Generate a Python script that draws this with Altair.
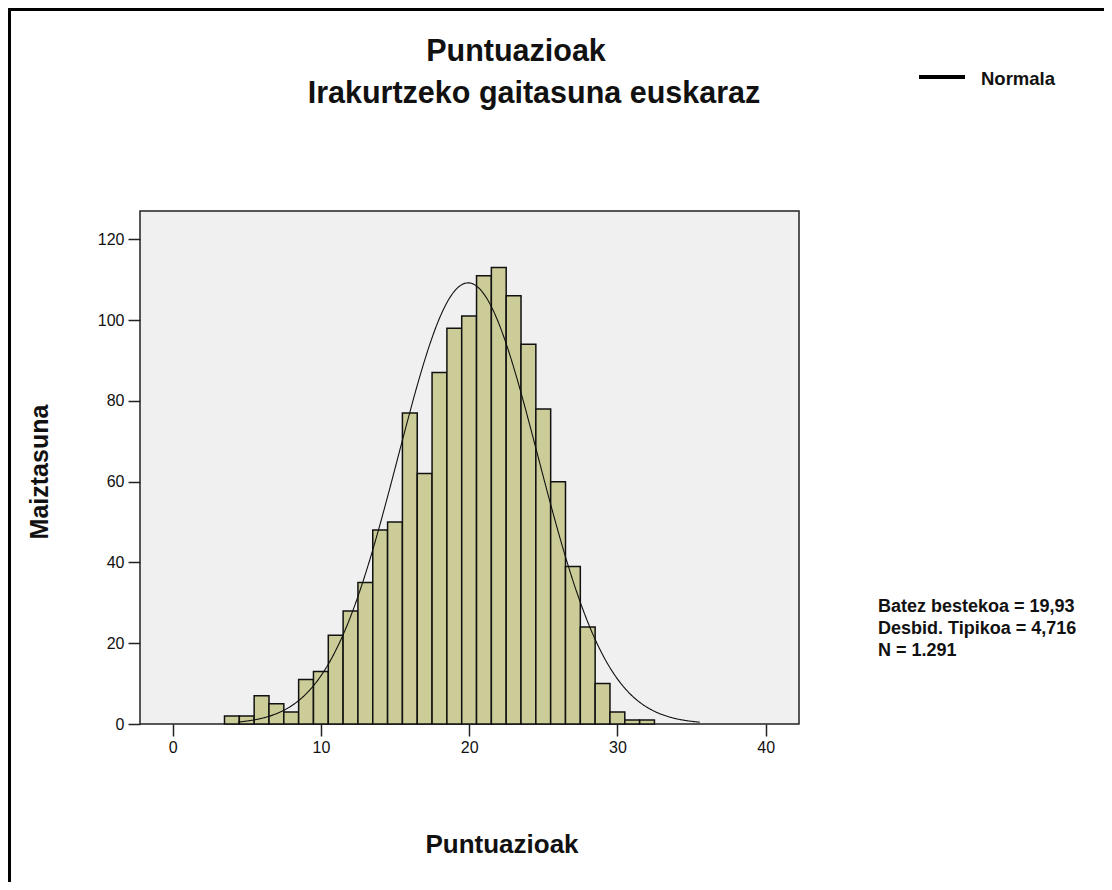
import altair as alt
import pandas as pd

# ---- data ----
bin_centers = list(range(4, 33))
counts = [2, 2, 7, 5, 3, 11, 13, 22, 28, 35, 48, 50, 77, 62, 87, 98, 101,
          111, 113, 106, 94, 78, 60, 39, 24, 10, 3, 1, 1]
bin_width = 1.0
mean_val = 19.93
sd_val = 4.716
n_val = 1291
curve_start, curve_stop = 4.4, 35.6

title_lines = ["Puntuazioak", "Irakurtzeko gaitasuna euskaraz"]
stats_lines = ["Batez bestekoa = 19,93", "Desbid. Tipikoa = 4,716", "N = 1.291"]
legend_label = "Normala"
x_title = "Puntuazioak"
y_title = "Maiztasuna"
x_ticks = [0, 10, 20, 30, 40]
y_ticks = [0, 20, 40, 60, 80, 100, 120]

FONT = "Liberation Sans"
W, H = 659, 513
PAD_L, PAD_T = 132, 203
PAD_R = 1096 - PAD_L - W
PAD_B = 874 - PAD_T - H

bars = pd.DataFrame({
    "center": bin_centers,
    "count": counts,
})

xscale = alt.Scale(domain=[-2.2, 42.25], nice=False, zero=False)
yscale = alt.Scale(domain=[0, 127], nice=False, zero=True)

xaxis = alt.Axis(values=x_ticks, title=None, grid=False, domain=False,
                 tickSize=12, tickColor="#222", tickWidth=1.5,
                 labelFont=FONT, labelFontSize=16, labelColor="#111",
                 labelPadding=3, format="d")
yaxis = alt.Axis(values=y_ticks, title=None, grid=False, domain=False,
                 tickSize=12, tickColor="#222", tickWidth=1.5,
                 labelFont=FONT, labelFontSize=16, labelColor="#111",
                 labelPadding=4, format="d")

hist = alt.Chart(bars).transform_calculate(
    x0=f"datum.center - {bin_width}/2",
    x1=f"datum.center + {bin_width}/2",
).mark_rect(fill="#cccc99", stroke="#111", strokeWidth=1.5).encode(
    x=alt.X("x0:Q", scale=xscale, axis=xaxis),
    x2="x1:Q",
    y=alt.Y("count:Q", scale=yscale, axis=yaxis),
    y2=alt.datum(0),
)

curve = alt.Chart(
    alt.sequence(curve_start, curve_stop, 0.05, as_="x")
).transform_calculate(
    y=f"{n_val} * {bin_width} * densityNormal(datum.x, {mean_val}, {sd_val})"
).mark_line(color="#111", strokeWidth=1.1).encode(
    x=alt.X("x:Q", scale=xscale),
    y=alt.Y("y:Q", scale=yscale),
)

one = pd.DataFrame({"k": [0]})

# frame lines of the output box
frame_left = alt.Chart(one).mark_rule(color="black", strokeWidth=3).encode(
    x=alt.value(-130.5), y=alt.value(-PAD_T), y2=alt.value(H + PAD_B))
frame_top = alt.Chart(one).mark_rule(color="black", strokeWidth=3).encode(
    y=alt.value(-201.5), x=alt.value(-PAD_L), x2=alt.value(W + PAD_R))

# legend
legend_line = alt.Chart(one).mark_rule(color="black", strokeWidth=4).encode(
    x=alt.value(779), x2=alt.value(825), y=alt.value(-134))
legend_text = alt.Chart(pd.DataFrame({"t": [legend_label]})).mark_text(
    font=FONT, fontSize=18.5, fontWeight="bold", align="left", baseline="alphabetic",
    color="#111").encode(text="t:N", x=alt.value(841), y=alt.value(-126.5))

# titles
title_df = pd.DataFrame({"t": title_lines, "cx": [376, 394], "by": [-150, -108]})
title_text = alt.Chart(title_df).mark_text(
    font=FONT, fontSize=30.5, fontWeight="bold", align="center",
    baseline="alphabetic", color="#111").encode(
    text="t:N", x=alt.X("cx:Q", scale=None), y=alt.Y("by:Q", scale=None))

stats_df = pd.DataFrame({"t": stats_lines, "by": [401, 423, 445]})
stats_text = alt.Chart(stats_df).mark_text(
    font=FONT, fontSize=18, fontWeight="bold", align="left",
    baseline="alphabetic", color="#111").encode(
    text="t:N", x=alt.value(738), y=alt.Y("by:Q", scale=None))

xt = alt.Chart(pd.DataFrame({"t": [x_title]})).mark_text(
    font=FONT, fontSize=26, fontWeight="bold", align="center", baseline="middle",
    color="#111").encode(text="t:N", x=alt.value(362), y=alt.value(634))
yt = alt.Chart(pd.DataFrame({"t": [y_title]})).mark_text(
    font=FONT, fontSize=25, fontWeight="bold", align="center", baseline="middle",
    angle=270, color="#111").encode(text="t:N", x=alt.value(-100), y=alt.value(261))

chart = alt.layer(
    hist, curve, frame_left, frame_top, legend_line, legend_text,
    title_text, stats_text, xt, yt
).properties(
    width=W, height=H,
    autosize=alt.AutoSizeParams(type="none"),
    padding={"left": PAD_L, "top": PAD_T, "right": PAD_R, "bottom": PAD_B},
    background="white",
).configure_view(
    fill="#f0f0f0", stroke="#222", strokeWidth=1.5
)

chart.save("out.html", embed_options={"renderer": "svg", "actions": False})
